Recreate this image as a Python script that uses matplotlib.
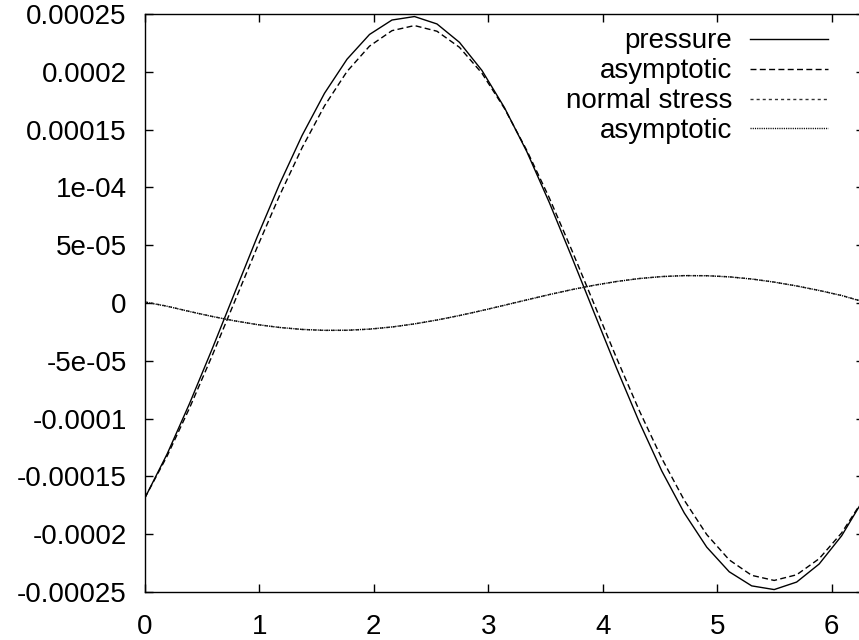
import numpy as np
import matplotlib
matplotlib.use("Agg")
import matplotlib.pyplot as plt

plt.rcParams['font.family'] = ['Liberation Sans', 'DejaVu Sans']
plt.rcParams['font.size'] = 20

# sample positions: 33 points over one period
n_pts = 33
x = np.linspace(0, 2 * np.pi, n_pts)

# pressure (units of 1e-4)
pressure = [-1.690, -1.305, -0.867, -0.398, 0.087, 0.570, 1.029, 1.449, 1.815,
            2.109, 2.323, 2.448, 2.478, 2.414, 2.255, 2.012, 1.691, 1.308,
            0.868, 0.396, -0.088, -0.569, -1.030, -1.453, -1.816, -2.112,
            -2.325, -2.447, -2.479, -2.414, -2.258, -2.014, -1.690]
pressure_asym = [-1.688, -1.323, -0.906, -0.456, 0.012, 0.481, 0.930, 1.343,
                 1.706, 2.003, 2.222, 2.356, 2.400, 2.351, 2.212, 1.988, 1.684,
                 1.319, 0.908, 0.456, -0.013, -0.481, -0.931, -1.344, -1.706,
                 -2.003, -2.222, -2.356, -2.400, -2.351, -2.212, -1.989, -1.688]
# normal stress (units of 1e-5)
normal = [0.10, -0.275, -0.733, -1.160, -1.543, -1.867, -2.119, -2.289, -2.372,
          -2.364, -2.265, -2.078, -1.811, -1.475, -1.084, -0.651, -0.189, 0.276,
          0.733, 1.161, 1.543, 1.866, 2.119, 2.289, 2.372, 2.364, 2.266, 2.079,
          1.810, 1.475, 1.086, 0.648, 0.10]
normal_asym = [0.08, -0.285, -0.740, -1.165, -1.545, -1.866, -2.115, -2.283,
               -2.363, -2.354, -2.256, -2.071, -1.806, -1.473, -1.085, -0.655,
               -0.197, 0.268, 0.726, 1.154, 1.537, 1.861, 2.114, 2.284, 2.366,
               2.357, 2.259, 2.073, 1.806, 1.472, 1.084, 0.648, 0.08]

labels = ['pressure', 'asymptotic', 'normal stress', 'asymptotic']

xticks = [0, 1, 2, 3, 4, 5, 6]
yticks = [0.00025, 0.0002, 0.00015, 0.0001, 0.00005, 0, -0.00005, -0.0001,
          -0.00015, -0.0002, -0.00025]
ytick_labels = ['0.00025', '0.0002', '0.00015', '1e-04', '5e-05', '0', '-5e-05',
                '-0.0001', '-0.00015', '-0.0002', '-0.00025']

fig = plt.figure(figsize=(8.59, 6.4), dpi=100)
# right edge of the frame falls just outside the picture, as in the original
ax = fig.add_axes([144.7 / 859, 48 / 640, 719.4 / 859, 578 / 640])

ax.plot(x, np.array(pressure) * 1e-4, color='black', lw=1.0, ls='-', label=labels[0])
ax.plot(x, np.array(pressure_asym) * 1e-4, color='black', lw=1.0,
        ls=(0, (4.3, 2.4)), label=labels[1])
ax.plot(x, np.array(normal) * 1e-5, color='#333333', lw=1.0,
        ls=(0, (2.2, 2.2)), label=labels[2])
ax.plot(x, np.array(normal_asym) * 1e-5, color='black', lw=1.0,
        ls=(0, (0.8, 0.8)), label=labels[3])

ax.set_xlim(0, 2 * np.pi)
ax.set_ylim(-0.00025, 0.00025)
ax.set_xticks(xticks)
ax.set_yticks(yticks)
ax.set_yticklabels(ytick_labels)
ax.tick_params(direction='in', length=5.8, width=1.0, top=True, right=True)
ax.tick_params(axis='y', pad=13)
ax.tick_params(axis='x', pad=16)
for s in ax.spines.values():
    s.set_linewidth(1.0)

leg = ax.legend(loc='upper right', bbox_to_anchor=(0.950, 0.975), frameon=False,
                markerfirst=False, handlelength=2.8, handletextpad=0.65,
                labelspacing=0.14, borderpad=0, borderaxespad=0)

fig.savefig('out.png', dpi=100)
